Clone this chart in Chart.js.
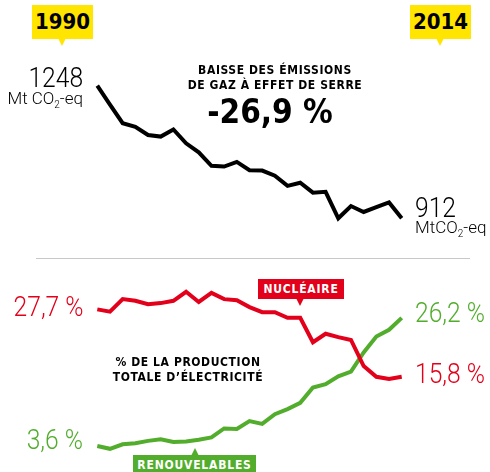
<!DOCTYPE html>
<html>
<head>
<meta charset="utf-8">
<script src="https://cdn.jsdelivr.net/npm/chart.js@4"></script>
<style>
  html, body { margin: 0; padding: 0; background: #fff; }
  #wrap { position: relative; width: 490px; height: 472px; overflow: hidden; }
  #wrap canvas { position: absolute; left: 0; top: 0; }
  .t { position: absolute; white-space: nowrap; line-height: 1; }
  .num { font-family: "Roboto", "Liberation Sans", sans-serif; font-weight: 300; }
  .r { transform: scaleX(0.88); transform-origin: right center; }
  .l { transform: scaleX(0.88); transform-origin: left center; }
  .unit { font-size: 17px; transform: none; }
  .unit sub { font-size: 10px; }
  .bold { font-family: "DejaVu Sans Condensed", "DejaVu Sans", sans-serif; font-stretch: condensed; font-weight: 700; }
  .tag { position: absolute; text-align: center; }
  .tag::after { content: ""; position: absolute; left: var(--px); bottom: -7px; margin-left: -4px;
    border-left: 4px solid transparent; border-right: 4px solid transparent; border-top: 8px solid var(--bg); }
  .tag.up::after { bottom: auto; top: -7px; border-top: 0; border-bottom: 8px solid var(--bg); }
</style>
</head>
<body>
<div id="wrap">
  <canvas id="ch" width="490" height="472"></canvas>

  <div class="tag bold" style="left:32px;top:5px;width:61px;height:34px;line-height:34px;background:#ffe500;--bg:#ffe500;--px:30px;font-size:22px;">1990</div>
  <div class="tag bold" style="left:410px;top:5px;width:61px;height:34px;line-height:34px;background:#ffe500;--bg:#ffe500;--px:30px;font-size:22px;">2014</div>

  <div class="t num r" style="right:407px;top:64px;font-size:28px;">1248</div>
  <div class="t num unit" style="right:407px;top:90px;">Mt CO<sub>2</sub>-eq</div>

  <div class="t num l" style="left:415px;top:194px;font-size:28px;">912</div>
  <div class="t num unit" style="left:415px;top:219px;">MtCO<sub>2</sub>-eq</div>

  <div class="t bold" style="left:175px;width:200px;text-align:center;top:64px;font-size:12px;letter-spacing:0.6px;">BAISSE DES ÉMISSIONS</div>
  <div class="t bold" style="left:175px;width:200px;text-align:center;top:79px;font-size:12px;letter-spacing:0.6px;">DE GAZ À EFFET DE SERRE</div>
  <div class="t bold" style="left:170px;width:200px;text-align:center;top:95px;font-size:33px;">-26,9 %</div>

  <div style="position:absolute;left:36px;top:258px;width:434px;height:1px;background:#c8c8c8;"></div>

  <div class="t num r" style="right:407px;top:293px;font-size:28px;color:#e2001a;">27,7 %</div>
  <div class="t num r" style="right:407px;top:426px;font-size:28px;color:#52ad2c;">3,6 %</div>
  <div class="t num l" style="left:415px;top:299px;font-size:28px;color:#52ad2c;">26,2 %</div>
  <div class="t num l" style="left:415px;top:360px;font-size:28px;color:#e2001a;">15,8 %</div>

  <div class="tag bold" style="left:258px;top:279px;width:86px;height:20px;line-height:20px;background:#e2001a;--bg:#e2001a;--px:42px;color:#fff;font-size:12px;letter-spacing:0.8px;">NUCLÉAIRE</div>
  <div class="tag bold up" style="left:133px;top:455px;width:123px;height:20px;line-height:20px;background:#52ad2c;--bg:#52ad2c;--px:62px;color:#fff;font-size:12px;letter-spacing:0.8px;">RENOUVELABLES</div>

  <div class="t bold" style="left:88px;width:200px;text-align:center;top:356px;font-size:12px;letter-spacing:0.6px;">% DE LA PRODUCTION</div>
  <div class="t bold" style="left:88px;width:200px;text-align:center;top:371px;font-size:12px;letter-spacing:0.6px;">TOTALE D’ÉLECTRICITÉ</div>
</div>

<script>
// years 1990 -> 2014
const years = [1990,1991,1992,1993,1994,1995,1996,1997,1998,1999,2000,2001,2002,
               2003,2004,2005,2006,2007,2008,2009,2010,2011,2012,2013,2014];

// greenhouse gas emissions, Mt CO2-eq
const emissions = [1248,1200,1153,1144,1123,1119,1137,1102,1079,1045,1043,1055,1034,
                   1033,1020,994,1002,977,979,912,943,928,940,952,912];

// share of total electricity production, %
const nuclear = [27.7,27.3,29.5,29.2,28.6,28.8,29.2,30.8,29.0,30.6,29.5,29.3,28.1,
                 27.2,27.2,26.2,26.2,21.9,23.4,22.8,22.3,17.7,15.8,15.4,15.8];
const renewables = [3.6,3.1,3.9,4.1,4.5,4.8,4.3,4.4,4.7,5.1,6.7,6.6,8.0,
                    7.5,9.2,10.1,11.2,13.9,14.5,15.9,16.7,20.1,22.9,24.1,26.2];

const pts = arr => years.map((y, i) => ({ x: y, y: arr[i] }));

new Chart(document.getElementById('ch'), {
    type: 'line',
    data: {
        datasets: [
            { data: pts(emissions), yAxisID: 'yE', borderColor: '#000', borderWidth: 4 },
            { data: pts(nuclear), yAxisID: 'yP', borderColor: '#e2001a', borderWidth: 4 },
            { data: pts(renewables), yAxisID: 'yP', borderColor: '#52ad2c', borderWidth: 4 }
        ]
    },
    options: {
        responsive: false,
        animation: false,
        events: [],
        layout: { padding: 0 },
        elements: { point: { radius: 0 }, line: { tension: 0, borderJoinStyle: 'miter' } },
        scales: {
            x: { type: 'linear', min: 1982.33, max: 2020.96, display: false },
            yE: { type: 'linear', min: 269.0, max: 1465.2, display: false },
            yP: { type: 'linear', min: -0.988, max: 82.26, display: false }
        },
        plugins: { legend: { display: false }, tooltip: { enabled: false } }
    }
});
</script>
</body>
</html>
